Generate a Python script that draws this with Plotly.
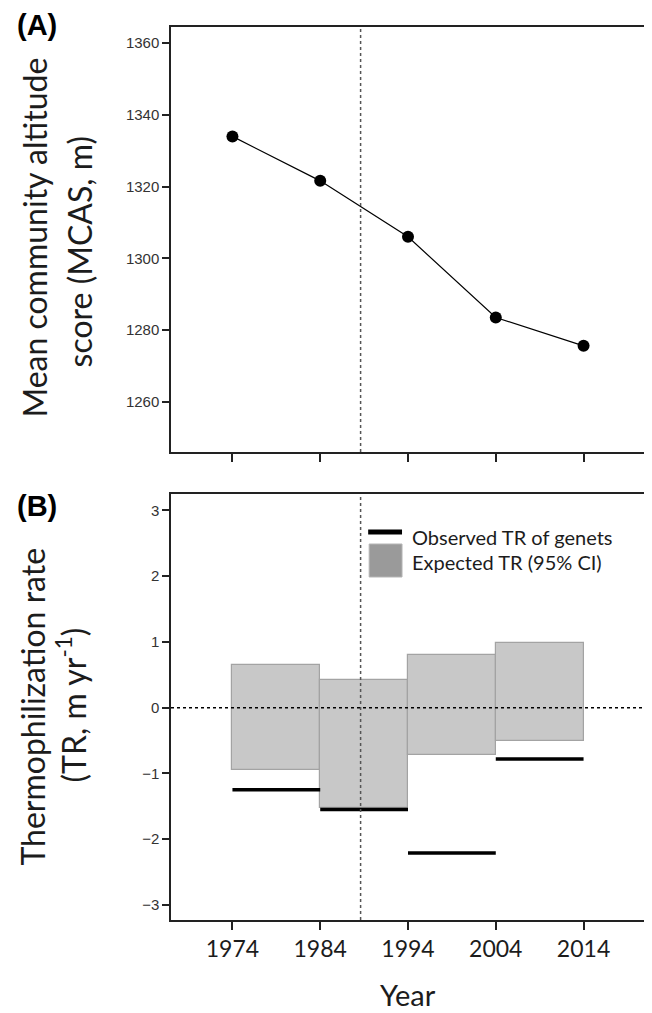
import plotly.graph_objects as go

# ---- data ----
years = [1974, 1984, 1994, 2004, 2014]
mcas = [1334.0, 1321.6, 1306.0, 1283.5, 1275.6]

period_start = [1974, 1984, 1994, 2004]
period_end = [1984, 1994, 2004, 2014]
expected_lo = [-0.95, -1.52, -0.72, -0.51]
expected_hi = [0.65, 0.42, 0.80, 0.99]
observed_tr = [-1.25, -1.55, -2.21, -0.78]

divider_year = 1988.6
x_ticks = [1974, 1984, 1994, 2004, 2014]
a_ticks = [1260, 1280, 1300, 1320, 1340, 1360]
b_ticks = [-3, -2, -1, 0, 1, 2, 3]

# page layout (page pixels; the page body has an 8px margin)
OFF = 8
PL, PR = 171, 647          # plot left / right
A_TOP, A_BOT = 27, 452
B_TOP, B_BOT = 494, 920
W, H = 644, 1005
ML = PL - OFF
MR = W - (PR - OFF)
MT = A_TOP - OFF
MB = H - (B_BOT - OFF)
PW = PR - PL
PH = B_BOT - A_TOP


def fx(px):
    return (px - PL) / PW


def fy(py):
    return (B_BOT - py) / PH


a_dom = [fy(A_BOT), 1.0]
b_dom = [0.0, fy(B_TOP)]

TITLE_FONT = "Lato, 'Open Sans', sans-serif"
TICK_FONT = "'Liberation Sans', Arial, sans-serif"
INK = "#1c1c1c"

fig = go.Figure()

# Panel A
fig.add_trace(go.Scatter(
    x=years, y=mcas, mode="lines+markers",
    line=dict(color="black", width=1.2),
    marker=dict(color="black", size=12),
    xaxis="x", yaxis="y", showlegend=False, hoverinfo="skip"))

# Panel B: expected CI boxes
mids = [(s + e) / 2 for s, e in zip(period_start, period_end)]
widths = [e - s for s, e in zip(period_start, period_end)]
fig.add_trace(go.Bar(
    x=mids, y=[h - l for h, l in zip(expected_hi, expected_lo)],
    base=expected_lo, width=widths,
    marker=dict(color="#c8c8c8", line=dict(color="#a3a3a3", width=1.2)),
    xaxis="x2", yaxis="y2", showlegend=False, hoverinfo="skip"))

# Observed TR segments
ox, oy = [], []
for s, e, v in zip(period_start, period_end, observed_tr):
    ox += [s, e, None]
    oy += [v, v, None]
fig.add_trace(go.Scatter(
    x=ox, y=oy, mode="lines", line=dict(color="black", width=3.5),
    xaxis="x2", yaxis="y2", showlegend=False, hoverinfo="skip"))

common_x = dict(range=[1967, 2021], tickvals=x_ticks, ticks="outside", ticklen=8,
                tickwidth=1.5, tickcolor="#222", showline=True, linecolor="#222",
                linewidth=1.5, mirror=True, showgrid=False, zeroline=False)
common_y = dict(ticks="outside", ticklen=7, tickwidth=1.5, tickcolor="#222",
                showline=True, linecolor="#222", linewidth=1.5, mirror=True,
                showgrid=False, zeroline=False,
                tickfont=dict(family=TICK_FONT, size=15, color="#333"))

fig.update_layout(
    width=W, height=H,
    margin=dict(l=ML, r=MR, t=MT, b=MB),
    plot_bgcolor="white", paper_bgcolor="white",
    bargap=0,
    xaxis=dict(domain=[0, 1], anchor="y", showticklabels=False, **common_x),
    yaxis=dict(domain=a_dom, anchor="x", range=[1246, 1364.5], tickvals=a_ticks, **common_y),
    xaxis2=dict(domain=[0, 1], anchor="y2", showticklabels=True,
                tickfont=dict(family=TITLE_FONT, size=23, color=INK), **common_x),
    yaxis2=dict(domain=b_dom, anchor="x2", range=[-3.23, 3.25], tickvals=b_ticks, **common_y),
)

# dotted reference lines
for xr, yr in [("x", "y domain"), ("x2", "y2 domain")]:
    fig.add_shape(type="line", xref=xr, yref=yr, x0=divider_year, x1=divider_year,
                  y0=0, y1=1, line=dict(color="#555", width=1.5, dash="dot"), layer="above")
fig.add_shape(type="line", xref="x2 domain", yref="y2", x0=0, x1=1, y0=0, y1=0,
              line=dict(color="black", width=1.5, dash="dot"), layer="above")

# legend (panel B), positioned in page pixels
BH = B_BOT - B_TOP


def bx(px):
    return (px - PL) / PW


def by(py):
    return (B_BOT - py) / BH


fig.add_shape(type="line", xref="x2 domain", yref="y2 domain",
              x0=bx(369), x1=bx(403), y0=by(532), y1=by(532),
              line=dict(color="black", width=5))
fig.add_shape(type="rect", xref="x2 domain", yref="y2 domain",
              x0=bx(370), x1=bx(403), y0=by(577), y1=by(544),
              fillcolor="#9a9a9a", line=dict(color="#b5b5b5", width=1))
legend_items = ["Observed TR of genets", "Expected TR (95% CI)"]
for txt, yy in zip(legend_items, [537, 561.5]):
    fig.add_annotation(text=txt, xref="x2 domain", yref="y2 domain",
                       x=bx(411), y=by(yy), xanchor="left", yanchor="middle",
                       showarrow=False, font=dict(family=TITLE_FONT, size=20, color=INK))

# axis titles (each line placed separately)
title_lines = [
    ("Mean community altitude", 33, 238),
    ("score (MCAS, m)", 80, 251),
    ("Thermophilization rate", 31, 707),
    ("(TR, m yr<sup>-1</sup>)", 71, 705),
]
for txt, cx, cy in title_lines:
    fig.add_annotation(text=txt, textangle=-90, xref="paper", yref="paper",
                       x=fx(cx), y=fy(cy), xanchor="center", yanchor="middle",
                       showarrow=False, font=dict(family=TITLE_FONT, size=32, color=INK))

fig.add_annotation(text="Year", xref="paper", yref="paper",
                   x=fx(409), y=fy(994), xanchor="center", yanchor="middle",
                   showarrow=False, font=dict(family=TITLE_FONT, size=29, color=INK))
for txt, yy in [("<b>(A)</b>", 25), ("<b>(B)</b>", 506)]:
    fig.add_annotation(text=txt, xref="paper", yref="paper",
                       x=fx(14), y=fy(yy), xanchor="left", yanchor="middle",
                       showarrow=False, font=dict(family=TICK_FONT, size=29, color="black"))

fig.write_html("out.html")
